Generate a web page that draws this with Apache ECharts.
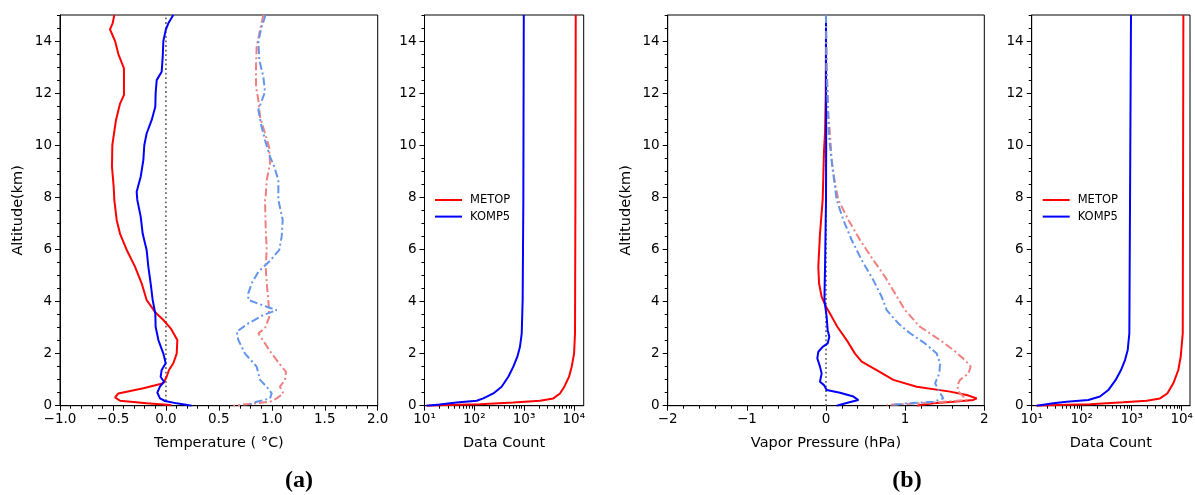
<!DOCTYPE html>
<html>
<head>
<meta charset="utf-8">
<script src="https://cdn.jsdelivr.net/npm/echarts@6/dist/echarts.min.js"></script>
<style>html,body{margin:0;padding:0;background:#fff}#c{width:1195px;height:495px}</style>
</head>
<body>
<div id="c"></div>
<script>
// ---------- DATA: [value, altitude(km)] ----------
const tempMetopBias = [[-0.487,15],[-0.503,14.68],[-0.528,14.45],[-0.512,14.3],[-0.48,14.0],[-0.449,13.5],[-0.396,12.95],[-0.396,11.93],[-0.433,11.6],[-0.471,10.97],[-0.49,10.45],[-0.506,10.0],[-0.509,9.17],[-0.493,8.4],[-0.487,7.9],[-0.465,7.13],[-0.433,6.6],[-0.37,5.98],[-0.292,5.34],[-0.229,4.7],[-0.182,4.06],[-0.103,3.6],[-0.024,3.29],[0.045,2.97],[0.108,2.52],[0.102,2.0],[0.07,1.63],[0.029,1.37],[0.007,1.11],[-0.024,0.86],[-0.213,0.67],[-0.449,0.47],[-0.48,0.32],[-0.433,0.19],[-0.182,0.09],[0.039,0.03],[0.05,0]];
const tempKompBias = [[0.07,15],[0.023,14.68],[-0.002,14.42],[-0.024,14.0],[-0.03,13.4],[-0.04,12.82],[-0.087,12.5],[-0.097,11.99],[-0.1,11.48],[-0.134,10.97],[-0.182,10.45],[-0.204,10.0],[-0.213,9.43],[-0.238,8.79],[-0.276,8.21],[-0.27,7.9],[-0.238,7.26],[-0.219,6.6],[-0.182,5.98],[-0.166,5.34],[-0.144,4.7],[-0.125,4.06],[-0.1,3.54],[-0.097,3.03],[-0.071,2.52],[-0.024,2.0],[-0.002,1.63],[-0.04,1.37],[-0.05,1.11],[-0.018,0.92],[-0.056,0.73],[-0.081,0.5],[-0.056,0.28],[-0.008,0.18],[0.102,0.09],[0.243,0]];
const tempMetopStd = [[0.92,15],[0.889,14.42],[0.857,13.78],[0.851,13.0],[0.851,12.25],[0.873,11.73],[0.889,11.09],[0.936,10.45],[0.974,9.94],[0.983,9.3],[0.952,8.66],[0.942,8.02],[0.936,7.9],[0.942,6.87],[0.952,5.98],[0.942,5.34],[0.952,4.7],[0.967,4.06],[0.977,3.42],[0.936,2.97],[0.873,2.78],[0.936,2.39],[0.999,2.0],[1.046,1.75],[1.093,1.5],[1.134,1.31],[1.125,0.99],[1.077,0.73],[1.109,0.47],[1.046,0.28],[0.983,0.15],[0.763,0.06],[0.637,0]];
const tempKompStd = [[0.942,15],[0.904,14.55],[0.873,14.0],[0.882,13.27],[0.92,12.63],[0.936,12.05],[0.873,11.35],[0.904,10.71],[0.936,10.2],[0.983,9.56],[1.024,9.17],[1.062,8.66],[1.062,8.02],[1.062,7.9],[1.103,7.13],[1.093,6.49],[1.071,5.98],[0.989,5.59],[0.873,5.14],[0.81,4.7],[0.778,4.31],[0.778,4.06],[0.952,3.8],[1.046,3.67],[0.92,3.48],[0.778,3.16],[0.668,2.84],[0.684,2.52],[0.747,2.0],[0.857,1.5],[0.889,0.99],[0.952,0.73],[0.999,0.47],[0.983,0.28],[0.857,0.15],[0.778,0.03]];

const countMetopT = [[10960,15],[10800,7.9],[10600,2.78],[10150,2.0],[9100,1.5],[8040,1.11],[6470,0.73],[5290,0.47],[3890,0.28],[2090,0.19],[610,0.12],[130,0.06],[28,0.03],[11,0]];
const countKompT = [[990,15],[970,7.9],[940,4.06],[900,2.78],[830,2.26],[735,1.88],[610,1.5],[484,1.11],[355,0.73],[242,0.47],[152,0.28],[112,0.19],[44,0.12],[20,0.05],[11,0]];

const vpMetopBias = [[0,15],[-0.003,12],[-0.012,10.5],[-0.025,9.8],[-0.042,7.9],[-0.076,6.6],[-0.097,5.34],[-0.088,4.7],[-0.055,4.18],[0,3.8],[0.072,3.42],[0.143,3.03],[0.261,2.52],[0.366,2.0],[0.451,1.69],[0.64,1.37],[0.851,0.99],[1.146,0.73],[1.567,0.54],[1.778,0.41],[1.904,0.28],[1.862,0.22],[1.609,0.15],[1.356,0.09],[1.188,0.03],[1.15,0]];
const vpKompBias = [[0,15],[0.002,10],[0,7.9],[-0.012,5.34],[-0.02,4.06],[0.008,3.42],[0.021,2.9],[0.042,2.65],[0.021,2.39],[-0.042,2.26],[-0.097,2.07],[-0.11,1.82],[-0.076,1.5],[-0.055,1.24],[-0.076,0.92],[-0.025,0.79],[0.008,0.6],[0.177,0.5],[0.346,0.35],[0.409,0.22],[0.283,0.12],[0.135,0]];
const vpMetopStd = [[0,15],[0.01,13],[0.029,11.2],[0.05,10.45],[0.072,9.43],[0.114,8.53],[0.156,7.9],[0.283,7.13],[0.43,6.36],[0.598,5.59],[0.746,4.95],[0.872,4.31],[0.998,3.67],[1.188,3.03],[1.441,2.52],[1.609,2.14],[1.757,1.75],[1.828,1.5],[1.799,1.24],[1.693,0.99],[1.66,0.79],[1.672,0.54],[1.736,0.35],[1.778,0.22],[1.356,0.12],[0.767,0.03]];
const vpKompStd = [[0,15],[0.005,13],[0.021,11.73],[0.034,10.45],[0.08,9.17],[0.135,7.9],[0.219,7.13],[0.325,6.36],[0.451,5.59],[0.598,4.82],[0.704,4.18],[0.767,3.67],[0.914,3.16],[1.062,2.78],[1.251,2.39],[1.399,2.0],[1.441,1.63],[1.432,1.24],[1.378,0.86],[1.432,0.54],[1.483,0.28],[1.356,0.15],[1.02,0.09],[0.851,0.03]];

const countMetopE = [[10800,15],[10500,2.78],[9550,1.88],[8550,1.37],[6800,0.86],[5150,0.47],[3680,0.28],[2000,0.19],[680,0.13],[147,0.06],[32,0.03],[12.6,0]];
const countKompE = [[968,15],[897,2.78],[832,2.14],[735,1.75],[611,1.37],[478,0.99],[341,0.6],[232,0.35],[136,0.22],[50,0.15],[27,0.09],[12.6,0]];

const zeroLine = [[0,0],[0,15]];

// tick labels / positions
const altTicks = [0,2,4,6,8,10,12,14];
const logMajorExp = [1,2,3,4];
const logMinorMult = [2,3,4,5,6,7,8,9];
const legendNames = ['METOP','KOMP5'];
const panelTags = ['(a)','(b)'];

// ---------- LAYOUT ----------
const FONT = 'DejaVu Sans';
const TOP = 15, H = 390.7;
const grids = [
  {left:60,   top:TOP, width:317.7, height:H},
  {left:424.5,top:TOP, width:159.2, height:H},
  {left:667.7,top:TOP, width:316.6, height:H},
  {left:1031.7,top:TOP,width:158.3, height:H}
].map(g => Object.assign(g, {show:true, borderColor:'#000', borderWidth:1, backgroundColor:'rgba(0,0,0,0)', outerBoundsMode:'none', containLabel:false}));

const RED='#ff0000', BLUE='#0000ff', LRED='#f08080', LBLUE='#6495ed';
const minusFmt = (d) => (v) => { const s = Math.abs(v).toFixed(d); return (v < -1e-9 ? '\u2212' : '') + s; };
const sup = {1:'\u00b9',2:'\u00b2',3:'\u00b3',4:'\u2074'};
const logFmt = (v) => { const l = Math.log10(v); const e = Math.round(l); if (Math.abs(l - e) > 1e-6 || !sup[e]) return ''; return '10' + sup[e]; };

const lbl = {color:'#000', fontFamily:FONT, fontSize:13.5, margin:7};
const nameStyle = {color:'#000', fontFamily:FONT, fontSize:14.5};
const axLine = {show:true, onZero:false, lineStyle:{color:'#000', width:1}};
const noLine = {show:false, onZero:false};

function linX(gi, min, max, interval, dec, name){
  return {gridIndex:gi, type:'value', position:'bottom', min, max, interval,
    axisLine:axLine, axisTick:{show:true, length:5, lineStyle:{color:'#000'}},
    minorTick:{show:true, splitNumber:5, length:3, lineStyle:{color:'#000'}},
    axisLabel:Object.assign({formatter:minusFmt(dec)}, lbl),
    splitLine:{show:false}, minorSplitLine:{show:false},
    name, nameLocation:'middle', nameGap:30, nameTextStyle:nameStyle};
}
function logX(gi, max, name){
  return {gridIndex:gi, type:'log', logBase:10, position:'bottom', min:10, max,
    axisLine:axLine, axisTick:{show:false},
    axisLabel:Object.assign({formatter:logFmt}, lbl),
    splitLine:{show:false}, minorTick:{show:false},
    name, nameLocation:'middle', nameGap:30, nameTextStyle:nameStyle};
}
function helperX(gi, maxLog, vals, len){
  return {gridIndex:gi, type:'value', position:'bottom', min:1, max:maxLog,
    axisLine:noLine, axisLabel:{show:false}, splitLine:{show:false},
    axisTick:{show:true, length:len, customValues:vals, lineStyle:{color:'#000'}}};
}
function majY(gi, name){
  return {gridIndex:gi, type:'value', position:'left', min:0, max:15, interval:2,
    axisLine:axLine, axisTick:{show:true, length:5, customValues:altTicks, lineStyle:{color:'#000'}},
    axisLabel:Object.assign({customValues:altTicks}, lbl, {margin:8}),
    splitLine:{show:false},
    name, nameLocation:'middle', nameGap:34, nameTextStyle:nameStyle};
}
function minY(gi){
  return {gridIndex:gi, type:'value', position:'left', min:0, max:15, interval:0.5,
    axisLine:noLine, axisLabel:{show:false}, splitLine:{show:false},
    axisTick:{show:true, length:3, lineStyle:{color:'#000'}}};
}

const logMajor = logMajorExp.map(e => e);
const logMinor = [];
logMajorExp.slice(0,3).forEach(e => logMinorMult.forEach(m => logMinor.push(e + Math.log10(m))));

const xAxes = [
  linX(0, -1, 2, 0.5, 1, 'Temperature ( \u00b0C)'),        // 0
  logX(1, Math.pow(10,4.2), 'Data Count'),                  // 1
  helperX(1, 4.2, logMajor, 5),                             // 2
  helperX(1, 4.2, logMinor, 3),                             // 3
  linX(2, -2, 2, 1, 0, 'Vapor Pressure (hPa)'),             // 4
  logX(3, Math.pow(10,4.166), 'Data Count'),                // 5
  helperX(3, 4.166, logMajor, 5),                           // 6
  helperX(3, 4.166, logMinor, 3)                            // 7
];
const yAxes = [
  majY(0,'Altitude(km)'), minY(0),
  majY(1,''), minY(1),
  majY(2,'Altitude(km)'), minY(2),
  majY(3,''), minY(3)
];

function line(name, data, xi, yi, color, dash, w){
  return {type:'line', name, data, xAxisIndex:xi, yAxisIndex:yi, symbol:'none', showSymbol:false,
    silent:true, animation:false, clip:true,
    lineStyle:{color, width:w||2, type:dash||'solid'}, itemStyle:{color}};
}
const DD = [8,3,2,3];
const zero = (xi, yi) => line('zero', zeroLine, xi, yi, '#6e6e6e', [1.8,2.8], 1.8);

const series = [
  zero(0,0),
  line('T METOP bias', tempMetopBias, 0, 0, RED),
  line('T KOMP5 bias', tempKompBias, 0, 0, BLUE),
  line('T METOP std', tempMetopStd, 0, 0, LRED, DD),
  line('T KOMP5 std', tempKompStd, 0, 0, LBLUE, DD),
  line('METOP', countMetopT, 1, 2, RED),
  line('KOMP5', countKompT, 1, 2, BLUE),
  zero(4,4),
  line('E METOP bias', vpMetopBias, 4, 4, RED),
  line('E KOMP5 bias', vpKompBias, 4, 4, BLUE),
  line('E METOP std', vpMetopStd, 4, 4, LRED, DD),
  line('E KOMP5 std', vpKompStd, 4, 4, LBLUE, DD),
  line('METOP', countMetopE, 5, 6, RED),
  line('KOMP5', countKompE, 5, 6, BLUE)
];

const legendBase = {orient:'vertical', top:194, itemWidth:27, itemHeight:10, itemGap:4.6, padding:0,
  selectedMode:false, data:legendNames,
  itemStyle:{opacity:0, borderWidth:0},
  textStyle:{fontFamily:FONT, fontSize:11.5, color:'#000', padding:[0,0,0,3]}};

const option = {
  backgroundColor:'#fff',
  animation:false,
  grid:grids,
  xAxis:xAxes,
  yAxis:yAxes,
  series,
  legend:[Object.assign({left:434}, legendBase), Object.assign({left:1041.7}, legendBase)],
  graphic:[
    {type:'text', x:299, y:481, style:{text:panelTags[0], font:'bold 24px "Liberation Serif"', align:'center', verticalAlign:'middle', fill:'#000'}},
    {type:'text', x:907, y:481, style:{text:panelTags[1], font:'bold 24px "Liberation Serif"', align:'center', verticalAlign:'middle', fill:'#000'}}
  ]
};
const chart = echarts.init(document.getElementById('c'), null, {renderer:'canvas'});
chart.setOption(option);
</script>
</body>
</html>
